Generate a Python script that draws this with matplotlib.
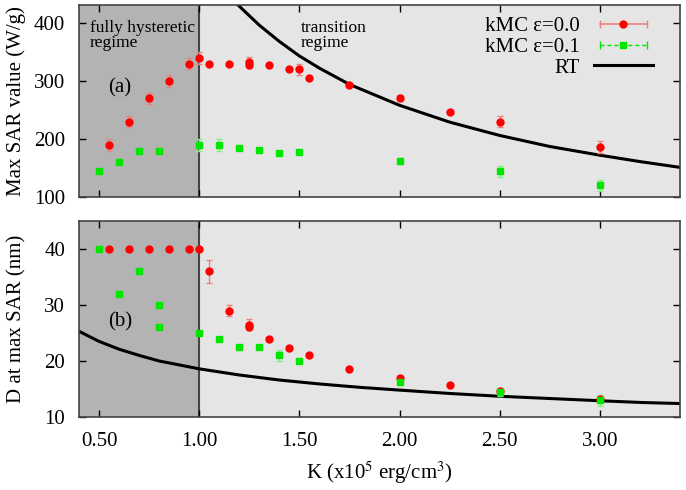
import numpy as np
from matplotlib import pyplot as plt
from matplotlib.lines import Line2D
from matplotlib.legend_handler import HandlerLine2D, HandlerTuple

plt.rcParams['font.family'] = ['Liberation Serif', 'DejaVu Serif']
plt.rcParams['mathtext.fontset'] = 'stix'

# -------------------------------------------------------------------
# top panel: max SAR (W/g)
k_red_a = [0.55, 0.65, 0.75, 0.85, 0.95, 1.00, 1.05, 1.15, 1.25, 1.25, 1.35, 1.45, 1.50, 1.55, 1.75, 2.00, 2.25, 2.50, 3.00]
sar_red = [190, 230, 270, 300, 330, 340, 330, 330, 332, 328, 327, 320, 320, 305, 293, 270, 247, 230, 186]
sar_red_err = [10, 10, 10, 10, 10, 10, 3, 2, 10, 3, 3, 3, 10, 3, 3, 5, 3, 10, 10]

k_green_a = [0.50, 0.60, 0.70, 0.80, 1.00, 1.10, 1.20, 1.30, 1.40, 1.50, 2.00, 2.50, 3.00]
sar_green = [145, 160, 180, 180, 190, 190, 185, 181, 175, 178, 162, 144, 120]
sar_green_err = [2, 2, 2, 2, 10, 10, 3, 3, 3, 3, 5, 10, 10]

k_rt_a = [1.19, 1.30, 1.40, 1.50, 1.60, 1.75, 2.00, 2.25, 2.50, 2.75, 3.00, 3.20, 3.40]
sar_rt = [432, 396, 368, 343, 322, 294, 258, 229, 206, 187, 172, 161, 151]

# bottom panel: D at max SAR (nm)
k_red_b = [0.55, 0.65, 0.75, 0.85, 0.95, 1.00, 1.05, 1.15, 1.25, 1.25, 1.35, 1.45, 1.55, 1.75, 2.00, 2.25, 2.50, 3.00]
d_red = [40, 40, 40, 40, 40, 40, 36, 29, 26.5, 26, 24, 22.3, 21, 18.5, 17, 15.8, 14.7, 13.3]
d_red_err = [0, 0, 0, 0, 0, 0, 2, 1, 1, 0.3, 0.3, 0.3, 0.3, 0.3, 0.3, 0.3, 0.3, 0.3]

k_green_b = [0.50, 0.60, 0.70, 0.80, 0.80, 1.00, 1.10, 1.20, 1.30, 1.40, 1.50, 2.00, 2.50, 3.00]
d_green = [40, 32, 36, 30, 26, 25, 24, 22.5, 22.5, 21, 20, 16.3, 14.5, 13]
d_green_err = [0, 0, 0, 0, 0, 0, 0, 0, 0, 1, 0, 0.5, 0.7, 1]

k_rt_b = [0.40, 0.50, 0.60, 0.70, 0.80, 0.90, 1.00, 1.20, 1.40, 1.60, 1.80, 2.00, 2.25, 2.50, 2.75, 3.00, 3.20, 3.40]
d_rt = [25.3, 23.5, 22.1, 21.0, 20.0, 19.3, 18.6, 17.5, 16.6, 15.9, 15.3, 14.8, 14.2, 13.7, 13.3, 12.9, 12.6, 12.4]

x_ticks = [0.5, 1.0, 1.5, 2.0, 2.5, 3.0]
x_ticklabels = ['0.50', '1.00', '1.50', '2.00', '2.50', '3.00']

# -------------------------------------------------------------------
fs = 15
red = '#ff0000'
red_err = '#f08080'
green = '#00e600'
green_err = '#80f080'

fig = plt.figure(figsize=(6.86, 4.90), dpi=100)
ax1 = fig.add_axes([0.1152, 0.598, 0.8761, 0.392])
ax2 = fig.add_axes([0.1152, 0.149, 0.8761, 0.400])

for ax in (ax1, ax2):
    ax.set_xlim(0.4, 3.4)
    ax.axvspan(0.4, 1.0, color='#b3b3b3', zorder=0, lw=0)
    ax.axvspan(1.0, 3.4, color='#e5e5e5', zorder=0, lw=0)
    ax.axvline(1.0, color='#444444', lw=1.5, zorder=1)
    ax.set_xticks(x_ticks)
    ax.tick_params(direction='in', top=True, right=True, length=5, labelsize=fs, width=1)
    ax.tick_params(axis='y', pad=10)
    ax.tick_params(axis='x', pad=11)
    for s in ax.spines.values():
        s.set_linewidth(1.2)
        s.set_color('#444444')

# top
ax1.errorbar(k_red_a, sar_red, yerr=sar_red_err, fmt='o', color=red, ms=5,
             ecolor=red_err, elinewidth=1, capsize=2.5, zorder=3)
ax1.errorbar(k_green_a, sar_green, yerr=sar_green_err, fmt='s', color=green, ms=5,
             ecolor=green_err, elinewidth=1, capsize=2.5, zorder=3)
ax1.plot(k_rt_a, sar_rt, color='black', lw=2.2, zorder=2)
ax1.set_ylim(100, 431)
ax1.set_yticks([100, 200, 300, 400])
ax1.set_xticklabels([])
ax1.set_ylabel('Max SAR value (W/g)', fontsize=fs)
ax1.yaxis.set_label_coords(-0.088, 0.5)
ax1.text(0.455, 405, 'fully hysteretic\nregime', fontsize=12.5, va='top', linespacing=0.95)
ax1.text(1.505, 405, 'transition\nregime', fontsize=12.5, va='top', linespacing=0.95)
ax1.text(0.545, 288, '(a)', fontsize=fs, va='center')

# legend, gnuplot style
cap_r = Line2D([], [], color=red_err, lw=1.2, marker='|', ms=6)
dot_r = Line2D([], [], color=red, marker='o', ms=5, ls='none')
cap_g = Line2D([], [], color=green, lw=1, ls='--', dashes=(3, 2), marker='|', ms=6)
dot_g = Line2D([], [], color=green, marker='s', ms=5, ls='none')
rt_h = Line2D([], [], color='black', lw=2.2)
hmap = {cap_r: HandlerLine2D(numpoints=2), cap_g: HandlerLine2D(numpoints=2),
        dot_r: HandlerLine2D(numpoints=1), dot_g: HandlerLine2D(numpoints=1)}
ax1.legend([(cap_r, dot_r), (cap_g, dot_g), rt_h],
           ['kMC ε=0.0', 'kMC ε=0.1', 'RT'],
           handler_map={tuple: HandlerTuple(ndivide=1, pad=0), **hmap},
           loc='upper right', bbox_to_anchor=(0.955, 0.938), frameon=False,
           markerfirst=False, fontsize=fs,
           handlelength=2.85, labelspacing=0.05, borderaxespad=0, handletextpad=0.65,
           borderpad=0)

# bottom
ax2.errorbar(k_red_b, d_red, yerr=d_red_err, fmt='o', color=red, ms=5,
             ecolor=red_err, elinewidth=1, capsize=2.5, zorder=3)
ax2.errorbar(k_green_b, d_green, yerr=d_green_err, fmt='s', color=green, ms=5,
             ecolor=green_err, elinewidth=1, capsize=2.5, zorder=3)
ax2.plot(k_rt_b, d_rt, color='black', lw=2.2, zorder=2)
ax2.set_ylim(10, 45)
ax2.set_yticks([10, 20, 30, 40])
ax2.set_xticklabels(x_ticklabels)
ax2.set_ylabel('D at max SAR (nm)', fontsize=fs)
ax2.yaxis.set_label_coords(-0.088, 0.5)
ax2.set_xlabel('K (x10$^5$ erg/cm$^3$)', fontsize=fs, labelpad=6)
ax2.text(0.545, 27, '(b)', fontsize=fs, va='center')

fig.savefig('out.png', dpi=100)
